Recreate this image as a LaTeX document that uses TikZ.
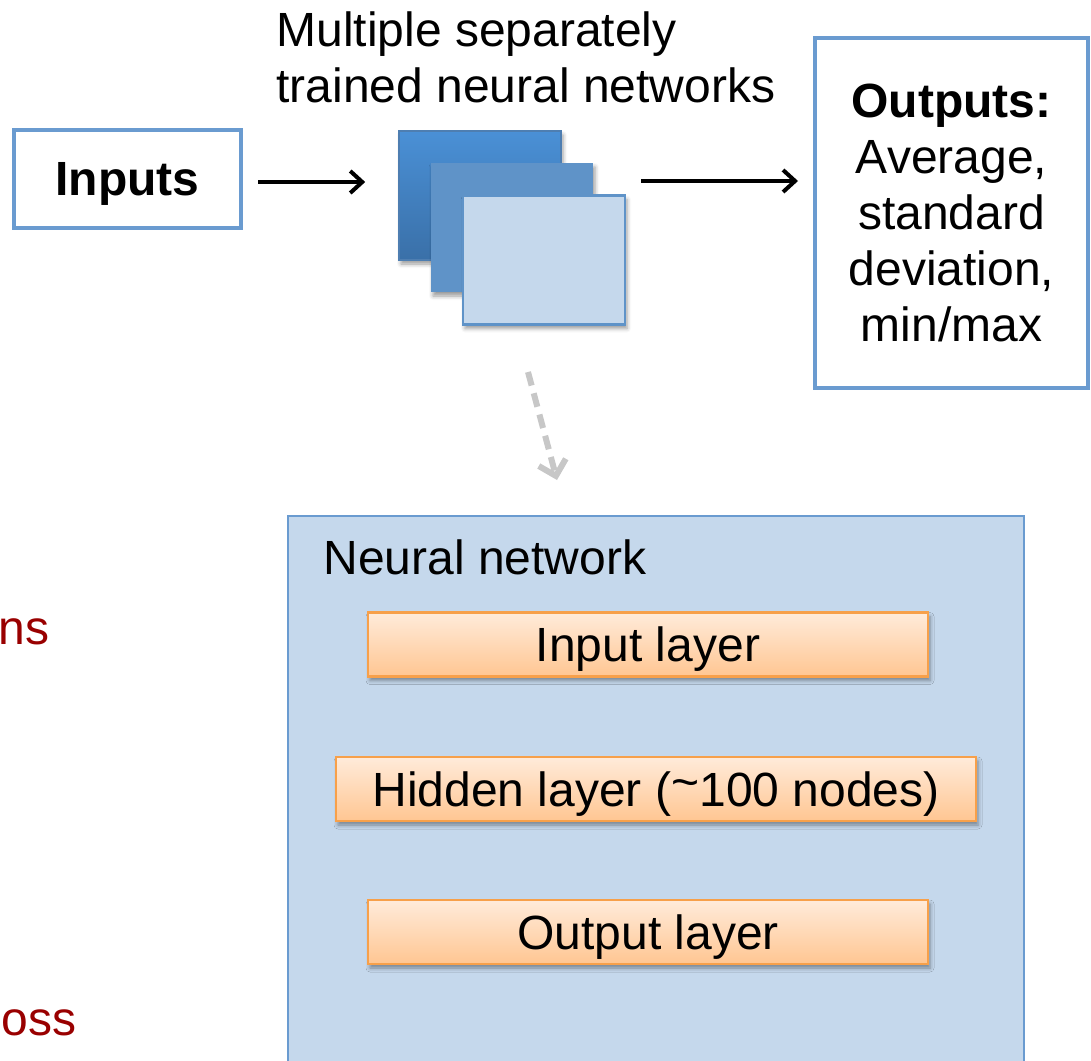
\documentclass[tikz,border=0pt]{standalone}
\usepackage{fontspec}
\setmainfont{Liberation Sans}
\usetikzlibrary{arrows.meta,shadows.blur,calc}
\definecolor{boxblue}{HTML}{6A9BD0}
\definecolor{paleblue}{HTML}{C5D8EC}
\definecolor{midblue}{HTML}{5F93C8}
\definecolor{topblue}{HTML}{4A90D6}
\definecolor{botblue}{HTML}{3A70A8}
\definecolor{orbord}{HTML}{F7A04A}
\definecolor{ortop}{HTML}{FFEBDA}
\definecolor{orbot}{HTML}{FFC692}
\definecolor{darkred}{HTML}{990000}
\begin{document}
\begin{tikzpicture}[x=0.5pt,y=-0.5pt,
  font=\fontsize{24}{28}\selectfont,
  shad/.style={blur shadow={shadow xshift=1pt,shadow yshift=-2pt,shadow blur radius=2pt,shadow opacity=40}},
  framebox/.style={draw=boxblue,line width=2pt,fill=white,inner sep=0pt},
  sheet/.style={minimum width=81pt,minimum height=64.5pt,inner sep=0pt,shad},
  layerbox/.style={draw=orbord,line width=1.2pt,top color=ortop,bottom color=orbot,inner sep=0pt,minimum height=32pt,text depth=0pt,shad},
  flowarrow/.style={line width=2pt,-{Straight Barb[length=6pt,width=11pt,line width=2pt]},shorten <=7.5pt,shorten >=7.5pt},
  redtext/.style={text=darkred,inner sep=0pt}
]
\useasboundingbox (0,0) rectangle (1091,1060);

% Inputs
\node[framebox,minimum width=113.5pt,minimum height=49pt,text depth=0pt] (inputs) at (127.5,179) {\bfseries Inputs};

% Title
\node[anchor=west,align=left,inner sep=0pt] (title) at (276,57) {Multiple separately\\trained neural networks};

% stack
\node[sheet,draw=botblue!90,line width=0.8pt,top color=topblue,bottom color=botblue] (r1) at (480,195.5) {};
\node[sheet,fill=midblue] (r2) at (512,227.5) {};
\node[sheet,fill=paleblue,draw=midblue,line width=1.2pt] (r3) at (544,260) {};

% Outputs
\node[framebox,minimum width=136.5pt,minimum height=175pt,align=center] (outputs) at (951.5,213)
  {\bfseries Outputs:\\Average,\\standard\\deviation,\\min/max};

% arrows
\draw[flowarrow,shorten >=16.5pt] (inputs.east |- 0,182) -- (r1.west |- 0,182);
\draw[flowarrow] (r3.east |- 0,181) -- (outputs.west |- 0,181);

% dashed arrow
\coordinate (d1) at (528,372);
\coordinate (d2) at (557,480);
\draw[black!22,line width=3pt,dash pattern=on 7pt off 4pt,
  -{Straight Barb[length=7pt,width=14pt,line width=3pt]}] (d1) -- (d2);

% Neural network box
\node[draw=boxblue,line width=0.8pt,fill=paleblue,minimum width=368pt,minimum height=276pt,inner sep=0pt] (nn) at (656,792) {};
\node[anchor=west,inner sep=0pt] (nnlabel) at (323,557) {Neural network};

\node[layerbox,minimum width=280pt] (inl) at (648,644.5) {Input layer};
\node[layerbox,minimum width=320pt] (hid) at (656,789) {Hidden layer (\raisebox{0.3ex}{\char`\~}100 nodes)};
\node[layerbox,minimum width=280pt] (outl) at (648,932) {Output layer};

% clipped red text
\node[redtext,anchor=east] (ns) at (50,632) {ns};
\node[redtext,anchor=west] (oss) at (1,1023) {oss};
\end{tikzpicture}
\end{document}
